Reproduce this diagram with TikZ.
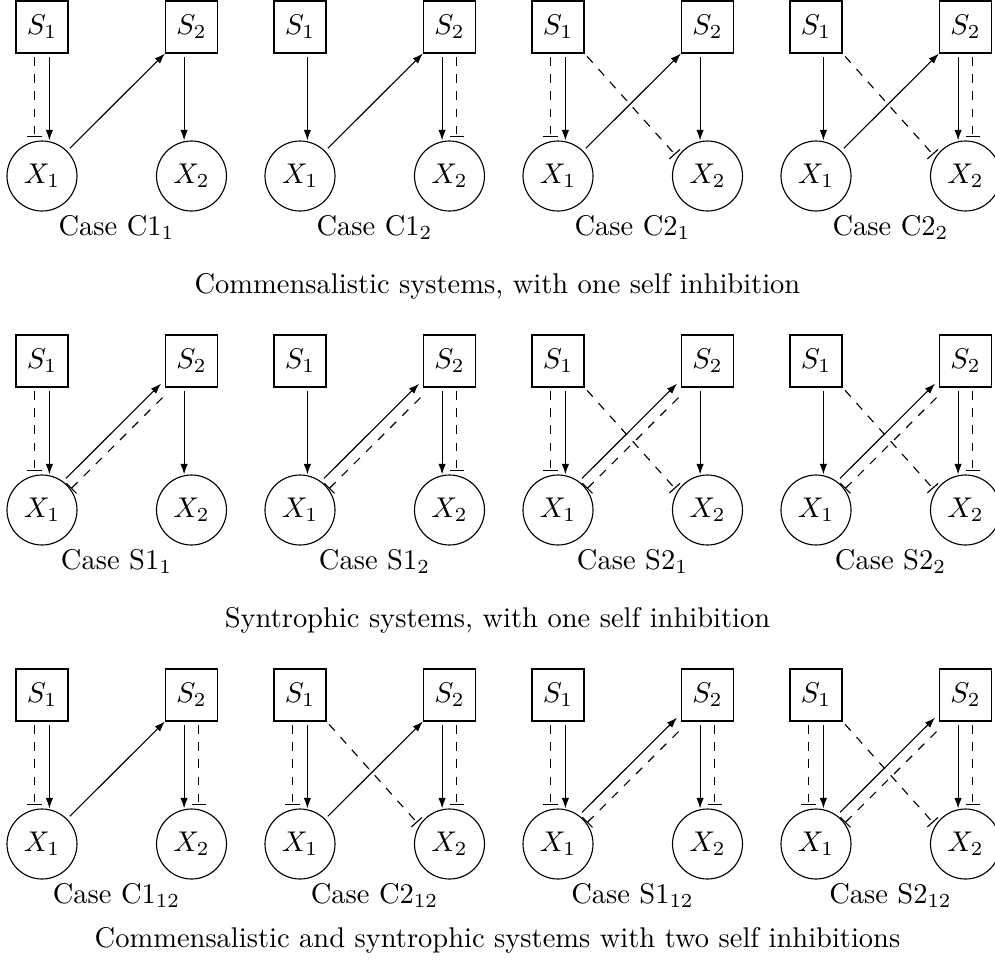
\documentclass[tikz,border=0pt]{standalone}
\usetikzlibrary{arrows.meta}
\tikzset{
  sbox/.style={draw, rectangle, minimum size=18.25pt, inner sep=0pt},
  xcirc/.style={draw, circle, minimum size=24.56pt, inner sep=0pt},
  act/.style={-{Latex[length=3.7pt,width=2.6pt]}, shorten <=1.3pt},
  inh/.style={dashed, -{Bar[width=5pt]}, shorten <=1.3pt, shorten >=1.2pt},
  inhs/.style={dashed, {Bar[width=5pt]}-, shorten >=1.3pt},
  capt/.style={anchor=base},
  ttl/.style={anchor=base},
}
\newcommand\mkpanel[4]{%
  \node[sbox] (#1S1) at (#2+42,#3+27) {$S_1$};
  \node[sbox] (#1S2) at (#2+191.5,#3+27) {$S_2$};
  \node[xcirc] (#1X1) at (#2+42,#3+176) {$X_1$};
  \node[xcirc] (#1X2) at (#2+191.5,#3+176) {$X_2$};
  \node[capt] (#1cap) at (#2+116.5,#3+235) {Case #4};
  \draw[act] ([xshift=2.6pt]#1S1.south) -- ([xshift=2.6pt]#1X1.north);
  \draw[act] ([xshift=-2.6pt]#1S2.south) -- ([xshift=-2.6pt]#1X2.north);
}
\newcommand\inhA[1]{\draw[inh] ([xshift=-2.6pt]#1S1.south) -- ([xshift=-2.6pt]#1X1.north);}
\newcommand\inhB[1]{\draw[inh] ([xshift=2.6pt]#1S2.south) -- ([xshift=2.6pt]#1X2.north);}
\newcommand\comm[1]{\draw[act] (#1X1) -- (#1S2);}
\newcommand\synt[1]{%
  \draw[act, transform canvas={shift={(-1.35pt,1.35pt)}}] (#1X1) -- (#1S2);
  \draw[inhs, transform canvas={shift={(1.35pt,-1.35pt)}}] (#1X1) -- (#1S2);}
\newcommand\cross[1]{\draw[inh] (#1S1.south east) -- (#1X2.148);}
\begin{document}
\begin{tikzpicture}[x=0.3509pt, y=-0.3509pt]
\useasboundingbox (0,0) rectangle (995,970);
% row 1
\mkpanel{a}{0}{0}{C1$_1$}   \inhA{a} \comm{a}
\mkpanel{b}{258}{0}{C1$_2$} \inhB{b} \comm{b}
\mkpanel{c}{516}{0}{C2$_1$} \inhA{c} \comm{c} \cross{c}
\mkpanel{d}{774}{0}{C2$_2$} \inhB{d} \comm{d} \cross{d}
\node[ttl] (t1) at (497.5,293) {Commensalistic systems, with one self inhibition};
% row 2
\mkpanel{e}{0}{334}{S1$_1$}   \inhA{e} \synt{e}
\mkpanel{f}{258}{334}{S1$_2$} \inhB{f} \synt{f}
\mkpanel{g}{516}{334}{S2$_1$} \inhA{g} \synt{g} \cross{g}
\mkpanel{h}{774}{334}{S2$_2$} \inhB{h} \synt{h} \cross{h}
\node[ttl] (t2) at (497.5,627) {Syntrophic systems, with one self inhibition};
% row 3
\mkpanel{i}{0}{668}{C1$_{12}$}   \inhA{i} \inhB{i} \comm{i}
\mkpanel{j}{258}{668}{C2$_{12}$} \inhA{j} \inhB{j} \comm{j} \cross{j}
\mkpanel{k}{516}{668}{S1$_{12}$} \inhA{k} \inhB{k} \synt{k}
\mkpanel{l}{774}{668}{S2$_{12}$} \inhA{l} \inhB{l} \synt{l} \cross{l}
\node[ttl] (t3) at (497.5,947) {Commensalistic and syntrophic systems with two self inhibitions};
\end{tikzpicture}
\end{document}
